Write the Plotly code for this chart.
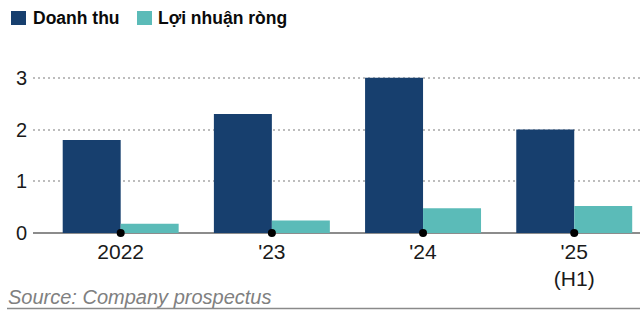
import plotly.graph_objects as go

categories = ["2022", "'23", "'24", "'25<br>(H1)"]
revenue = [1.8, 2.3, 3.0, 2.0]
net_profit = [0.18, 0.24, 0.48, 0.52]
series_names = ["Doanh thu", "Lợi nhuận ròng"]
y_ticks = [0, 1, 2, 3]
source_text = "Source: Company prospectus"

W, H = 640, 327
ML, MR, MT, MB = 33, 0, 52, 94
PW, PH = W - ML - MR, H - MT - MB

def px(x):
    return (x - ML) / PW

def py(y):
    return (H - MB - y) / PH

dark = "#173f6e"
teal = "#5bbbb8"
font_fam = "Liberation Sans, Arial, sans-serif"

fig = go.Figure()
fig.add_trace(go.Bar(x=categories, y=revenue, name=series_names[0], marker=dict(color=dark, line=dict(width=0))))
fig.add_trace(go.Bar(x=categories, y=net_profit, name=series_names[1], marker=dict(color=teal, line=dict(width=0))))
fig.add_trace(go.Scatter(x=categories, y=[0] * len(categories), mode="markers",
                         marker=dict(color="black", size=8), cliponaxis=False, showlegend=False,
                         hoverinfo="skip"))

shapes = [
    dict(type="rect", xref="paper", yref="paper", x0=px(11), x1=px(26), y0=py(25), y1=py(11),
         fillcolor=dark, line=dict(width=0)),
    dict(type="rect", xref="paper", yref="paper", x0=px(137), x1=px(152), y0=py(25), y1=py(11),
         fillcolor=teal, line=dict(width=0)),
    dict(type="line", xref="paper", yref="paper", x0=px(7), x1=px(640), y0=py(308.5), y1=py(308.5),
         line=dict(color="#8a8a8a", width=1.5)),
]

annotations = [
    dict(xref="paper", yref="paper", x=px(31), y=py(18.5), xanchor="left", yanchor="middle",
         text="<b>" + series_names[0] + "</b>", showarrow=False,
         font=dict(family=font_fam, size=17.5, color="#0a0a0a")),
    dict(xref="paper", yref="paper", x=px(156), y=py(18.5), xanchor="left", yanchor="middle",
         text="<b>" + series_names[1] + "</b>", showarrow=False,
         font=dict(family=font_fam, size=17.5, color="#0a0a0a")),
    dict(xref="paper", yref="paper", x=px(6), y=py(297), xanchor="left", yanchor="middle",
         text=source_text, showarrow=False,
         font=dict(family=font_fam, size=20, color="#808080", style="italic")),
]

fig.update_layout(
    width=W, height=H,
    margin=dict(l=ML, r=MR, t=MT, b=MB, pad=0),
    paper_bgcolor="white", plot_bgcolor="white",
    barmode="group", bargap=0.233, bargroupgap=0,
    showlegend=False,
    shapes=shapes, annotations=annotations,
    font=dict(family=font_fam, color="#1a1a1a"),
)
fig.update_xaxes(
    type="category", range=[-0.58, 3.435],
    showgrid=False, showline=False, zeroline=False, ticks="",
    ticklabelstandoff=4,
    tickfont=dict(size=21, family=font_fam, color="#1a1a1a"),
    fixedrange=True,
)
fig.update_yaxes(
    range=[0, 3.5], tickvals=y_ticks, ticktext=[str(v) for v in y_ticks],
    showgrid=True, gridcolor="#bdbdbd", griddash="2px,3px", gridwidth=1.5,
    zeroline=True, zerolinecolor="#8c8c8c", zerolinewidth=1.5,
    showline=False, ticks="", ticklabelstandoff=5,
    tickfont=dict(size=20, family=font_fam, color="#1a1a1a"),
    fixedrange=True,
)
fig.write_html("out.html")
